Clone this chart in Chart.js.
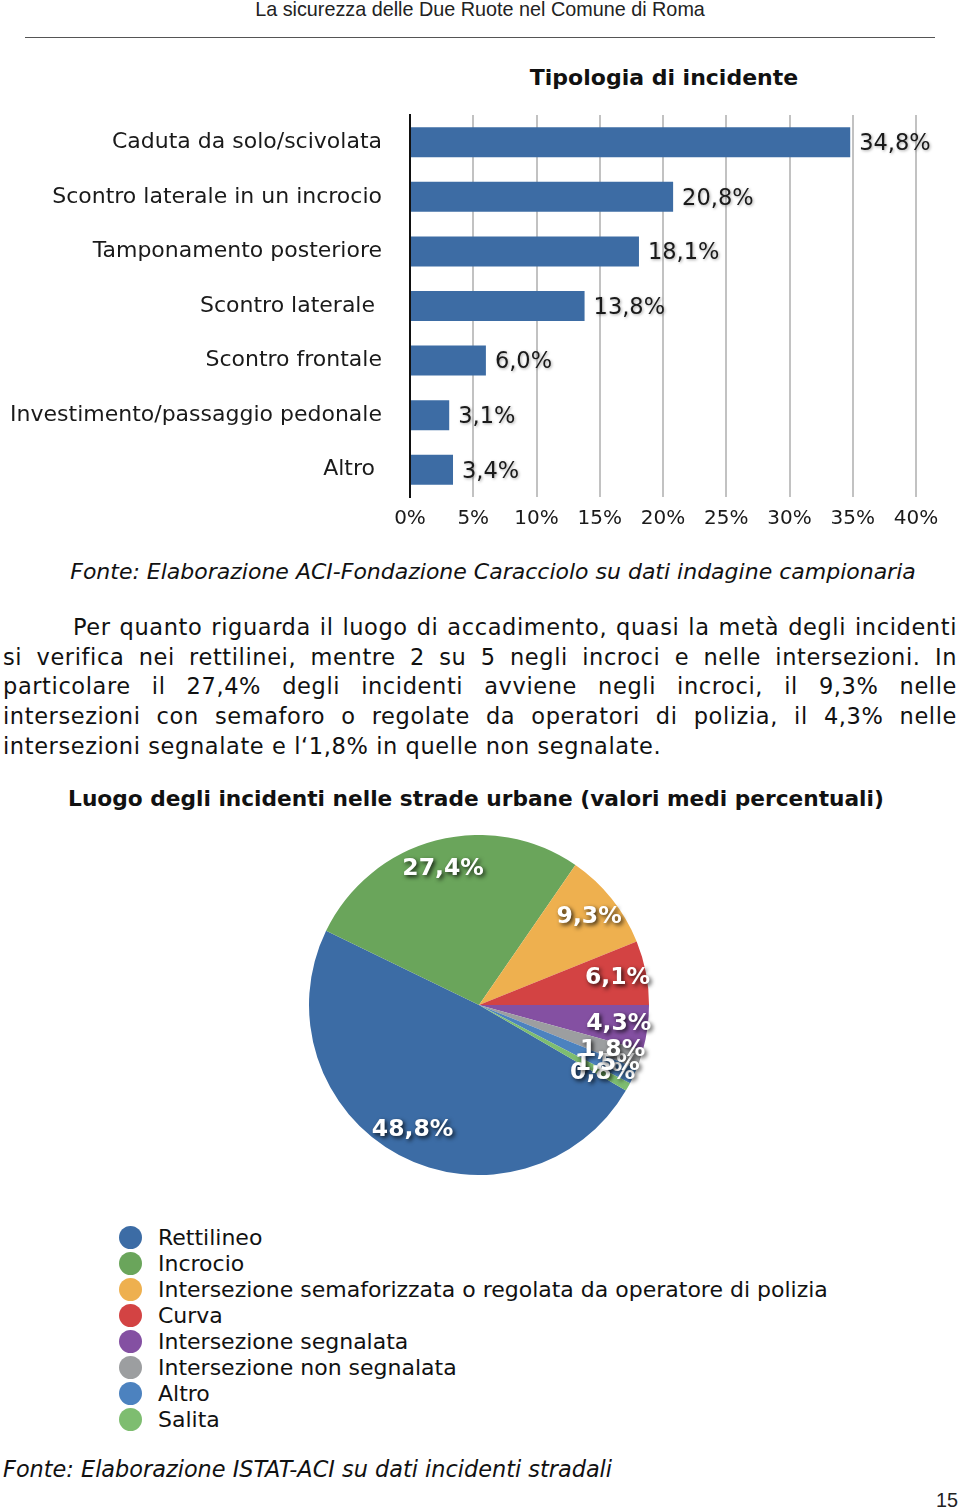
<!DOCTYPE html>
<html><head><meta charset="utf-8">
<script src="https://cdn.jsdelivr.net/npm/chart.js@4.4.1/dist/chart.umd.min.js"></script>
<style>
html,body{margin:0;padding:0;background:#fff;}
body{width:960px;height:1512px;position:relative;overflow:hidden;font-family:"DejaVu Sans",Verdana,sans-serif;color:#111;}
.abs{position:absolute;white-space:nowrap;}
.hdr{font-family:"Liberation Sans Narrow","Liberation Sans",sans-serif;font-size:19.8px;line-height:20px;color:#222;}
.rule{position:absolute;left:25px;width:910px;top:37px;border-top:1.5px solid #555;}
.title{font-weight:bold;font-size:22px;line-height:24px;text-align:center;}
.src{font-style:italic;font-size:22px;line-height:24px;}
.para{position:absolute;left:3px;width:954px;font-size:22.5px;line-height:29.7px;letter-spacing:0.6px;}
.para div{text-align:justify;text-align-last:justify;white-space:nowrap;}
.para div.last{text-align-last:left;}
#legend{position:absolute;left:119px;top:1224px;}
.li{height:26px;display:flex;align-items:center;font-size:22px;}
.dot{width:23px;height:23px;border-radius:50%;margin-right:16px;}
</style></head><body>
<div class="abs hdr" style="left:0;width:960px;text-align:center;top:-1px;">La sicurezza delle Due Ruote nel Comune di Roma</div>
<div class="rule"></div>
<div class="abs title" style="left:364px;width:600px;top:66px;">Tipologia di incidente</div>
<div style="position:absolute;left:0;top:100px;width:960px;height:440px;"><canvas id="bar"></canvas></div>
<div class="abs src" style="left:0;width:986px;text-align:center;top:560px;">Fonte: Elaborazione ACI-Fondazione Caracciolo su dati indagine campionaria</div>
<div class="para" style="top:613px;">
<div style="padding-left:70px;">Per quanto riguarda il luogo di accadimento, quasi la metà degli incidenti</div>
<div>si verifica nei rettilinei, mentre 2 su 5 negli incroci e nelle intersezioni. In</div>
<div>particolare il 27,4% degli incidenti avviene negli incroci, il 9,3% nelle</div>
<div>intersezioni con semaforo o regolate da operatori di polizia, il 4,3% nelle</div>
<div class="last">intersezioni segnalate e l‘1,8% in quelle non segnalate.</div>
</div>
<div class="abs title" style="left:0;width:952px;top:787px;font-size:21.7px;">Luogo degli incidenti nelle strade urbane (valori medi percentuali)</div>
<div style="position:absolute;left:0;top:835px;width:960px;height:340px;"><canvas id="pie"></canvas></div>
<div id="legend"></div>
<div class="abs src" style="left:3px;top:1457px;font-size:22.4px;">Fonte: Elaborazione ISTAT-ACI su dati incidenti stradali</div>
<div class="abs hdr" style="left:936px;top:1490px;">15</div>
<script>
// ---- Bar chart data ----
const barCategories = ["Caduta da solo/scivolata", "Scontro laterale in un incrocio", "Tamponamento posteriore", "Scontro laterale ", "Scontro frontale", "Investimento/passaggio pedonale", "Altro "];
const barValues = [34.8, 20.8, 18.1, 13.8, 6.0, 3.1, 3.4];
const barAxisMin = 0;
const barAxisMax = 40;
const barAxisStep = 5;

// ---- Pie chart data ----
const pieLabels = ["Rettilineo", "Incrocio", "Intersezione semaforizzata o regolata da operatore di polizia", "Curva", "Intersezione segnalata", "Intersezione non segnalata", "Altro", "Salita"];
const pieValues = [48.8, 27.4, 9.3, 6.1, 4.3, 1.8, 1.5, 0.8];
const pieColors = ["#3C6CA5", "#6AA55B", "#EEB04F", "#D34343", "#8450A2", "#9C9EA0", "#4C82BF", "#7EBD70"];

const fmt = v => v.toFixed(1).replace('.', ',') + '%';
const FONT = '"DejaVu Sans", Verdana, sans-serif';

const barLabelPlugin = {
  id: 'barLabels',
  afterDatasetsDraw(chart) {
    const ctx = chart.ctx;
    const meta = chart.getDatasetMeta(0);
    ctx.save();
    ctx.font = '22.5px ' + FONT;
    ctx.fillStyle = '#1a1a1a';
    ctx.textAlign = 'left';
    ctx.textBaseline = 'middle';
    ctx.shadowColor = 'rgba(0,0,0,0.35)';
    ctx.shadowBlur = 3;
    ctx.shadowOffsetX = 1;
    ctx.shadowOffsetY = 1;
    meta.data.forEach((bar, i) => {
      ctx.fillText(fmt(barValues[i]), bar.x + 9, bar.y + 2);
    });
    ctx.restore();
  }
};

new Chart(document.getElementById('bar'), {
  type: 'bar',
  data: {
    labels: barCategories,
    datasets: [{ data: barValues, backgroundColor: '#3D6CA4', barPercentage: 0.55, categoryPercentage: 1 }]
  },
  options: {
    indexAxis: 'y',
    responsive: true,
    maintainAspectRatio: false,
    animation: false,
    layout: { padding: { top: 15, right: 44, left: 0, bottom: 0 } },
    plugins: { legend: { display: false }, tooltip: { enabled: false } },
    scales: {
      x: {
        min: barAxisMin, max: barAxisMax,
        ticks: { stepSize: barAxisStep, callback: v => v + '%', color: '#1a1a1a', font: { family: FONT, size: 20 }, padding: 10, maxRotation: 0 },
        grid: { color: c => (c.tick && c.tick.value === 0) ? 'rgba(0,0,0,0)' : '#C2C2C2', lineWidth: 2, drawTicks: false },
        border: { display: false },
        afterFit: s => { s.height = 43; }
      },
      y: {
        ticks: { color: '#1a1a1a', font: { family: FONT, size: 22 }, padding: 28, autoSkip: false },
        grid: { display: false, drawTicks: false },
        border: { display: true, color: '#111', width: 2 },
        afterFit: s => { s.width = 410; s.paddingTop = 0; s.paddingBottom = 0; }
      }
    }
  },
  plugins: [barLabelPlugin]
});

const pieLabelPlugin = {
  id: 'pieLabels',
  afterDatasetsDraw(chart) {
    const ctx = chart.ctx;
    const meta = chart.getDatasetMeta(0);
    ctx.save();
    ctx.font = 'bold 23.5px ' + FONT;
    ctx.fillStyle = '#ffffff';
    ctx.textAlign = 'center';
    ctx.textBaseline = 'middle';
    ctx.shadowColor = 'rgba(0,0,0,0.8)';
    ctx.shadowBlur = 4;
    ctx.shadowOffsetX = 2;
    ctx.shadowOffsetY = 2;
    for (let i = meta.data.length - 1; i >= 0; i--) {
      const p = meta.data[i].getProps(['x', 'y', 'startAngle', 'endAngle', 'outerRadius'], true);
      const a = (p.startAngle + p.endAngle) / 2;
      const r = p.outerRadius * 0.83;
      ctx.fillText(fmt(pieValues[i]), p.x + Math.cos(a) * r, p.y + Math.sin(a) * r);
    }
    ctx.restore();
  }
};

const pie = new Chart(document.getElementById('pie'), {
  type: 'pie',
  data: {
    labels: pieLabels,
    datasets: [{ data: pieValues, backgroundColor: pieColors, borderWidth: 0 }]
  },
  options: {
    responsive: true,
    maintainAspectRatio: false,
    animation: false,
    rotation: 120.24,
    layout: { padding: { left: 0, right: 2 } },
    plugins: { legend: { display: false }, tooltip: { enabled: false } }
  },
  plugins: [pieLabelPlugin]
});

// HTML legend built from the pie chart's own data
const lg = document.getElementById('legend');
pie.data.labels.forEach((lab, i) => {
  const row = document.createElement('div'); row.className = 'li';
  const d = document.createElement('span'); d.className = 'dot'; d.style.background = pie.data.datasets[0].backgroundColor[i];
  const t = document.createElement('span'); t.textContent = lab;
  row.appendChild(d); row.appendChild(t); lg.appendChild(row);
});
</script>
</body></html>
